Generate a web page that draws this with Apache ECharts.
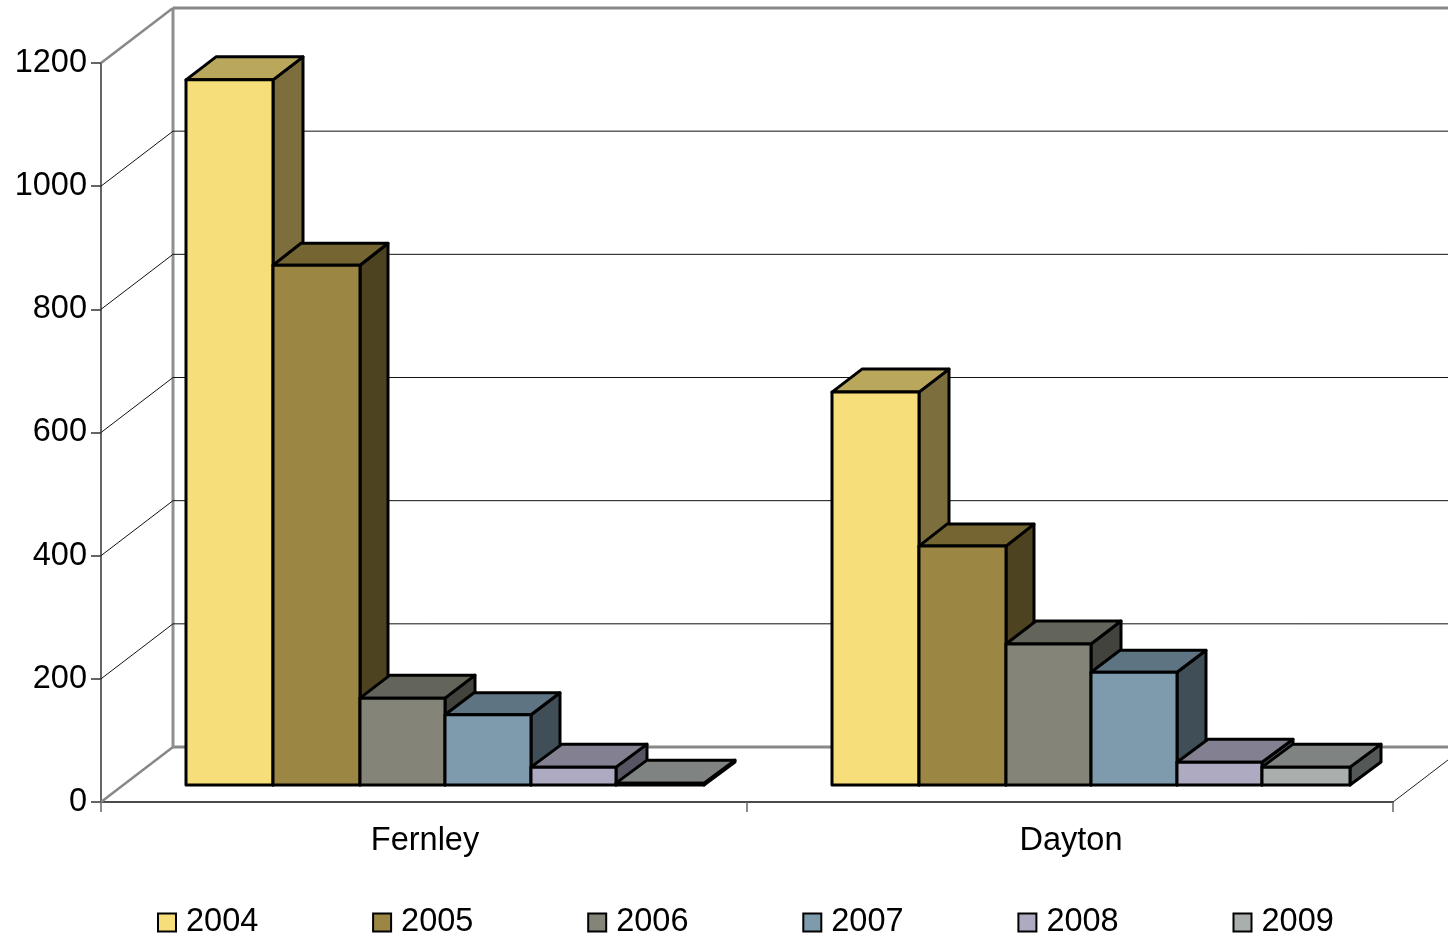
<!DOCTYPE html>
<html>
<head>
<meta charset="utf-8">
<style>html,body{margin:0;padding:0;background:#fff}#chart{width:1448px;height:936px}</style>
<script src="https://cdn.jsdelivr.net/npm/echarts@6/dist/echarts.min.js"></script>
</head>
<body>
<div id="chart"></div>
<script>
// Values per town, one list per year
const towns = ['Fernley', 'Dayton'];
const years = ['2004', '2005', '2006', '2007', '2008', '2009'];
const values2004 = [1145, 638];
const values2005 = [844, 388];
const values2006 = [141, 229];
const values2007 = [114, 183];
const values2008 = [29, 37];
const values2009 = [3, 29];
const yearValues = [values2004, values2005, values2006, values2007, values2008, values2009];
const valueTicks = [0, 200, 400, 600, 800, 1000, 1200];

// Front, top and side face colours for each year
const faceColors = [
  ['#F6DF7A', '#B9A75C', '#7D6F3D'],
  ['#9B8743', '#746533', '#4D4320'],
  ['#848578', '#63645A', '#42433C'],
  ['#7D9BAD', '#5E7482', '#3F4E57'],
  ['#AEAAC2', '#838092', '#575561'],
  ['#A9AFAC', '#7F8381', '#545856']
];

// Pseudo-3D projection, in pixels
const wallDepth = [72, -55];
const barDepths = [[30, -23], [28, -22], [30, -23], [29, -22], [31, -23], [31, -23]];
const barLift = 17;
const barEdges = [85, 172, 259, 344, 430, 515, 603];

function poly(points, fill, stroke, width) {
  return {
    type: 'polygon',
    shape: { points },
    style: { fill, stroke, lineWidth: width, lineJoin: 'round' }
  };
}

function line(x1, y1, x2, y2, stroke, width) {
  return {
    type: 'line',
    shape: { x1, y1, x2, y2 },
    style: { stroke, lineWidth: width, fill: null }
  };
}

// Walls and floor: slanted rule from the axis, then a horizontal rule on the back wall
function renderWall(params, api) {
  const value = api.value(1);
  const p = api.coord([0, value]);
  const band = api.size([1, 0])[0];
  const left = p[0] - band / 2;
  const right = left + band * towns.length;
  const y = p[1];
  const [dx, dy] = wallDepth;
  const edge = value === valueTicks[0] || value === valueTicks[valueTicks.length - 1];
  const stroke = edge ? '#888888' : '#111111';
  const width = edge ? 3 : 1;
  const children = [
    line(left, y, left + dx, y + dy, stroke, edge ? 2.5 : 1),
    line(left + dx, y + dy, right + dx, y + dy, stroke, width)
  ];
  if (value === valueTicks[0]) {
    children.push(line(right, y, right + dx, y + dy, '#222222', 1));
    const top = api.coord([0, valueTicks[valueTicks.length - 1]])[1];
    children.push(line(left + dx, y + dy, left + dx, top + dy, '#909090', 3));
  }
  return { type: 'group', children };
}

function renderBar(seriesIndex) {
  return function (params, api) {
    const top = api.coord([api.value(0), api.value(1)]);
    const base = api.coord([api.value(0), 0]);
    const band = api.size([1, 0])[0];
    const start = top[0] - band / 2;
    const x0 = start + barEdges[seriesIndex];
    const x1 = start + barEdges[seriesIndex + 1];
    const yt = top[1] - barLift;
    const yb = base[1] - barLift;
    const [dx, dy] = barDepths[seriesIndex];
    const c = faceColors[seriesIndex];
    return {
      type: 'group',
      children: [
        poly([[x1, yt], [x1 + dx, yt + dy], [x1 + dx, yb + dy], [x1, yb]], c[2], '#000', 3),
        poly([[x0, yt], [x0 + dx, yt + dy], [x1 + dx, yt + dy], [x1, yt]], c[1], '#000', 3),
        poly([[x0, yt], [x1, yt], [x1, yb], [x0, yb]], c[0], '#000', 3)
      ]
    };
  };
}

const textFont = { fontFamily: 'Liberation Sans', fontSize: 32.5, color: '#000' };

const option = {
  animation: false,
  backgroundColor: '#fff',
  grid: { left: 101, right: 55, top: 63, bottom: 134, containLabel: false },
  legend: {
    data: years,
    left: 152,
    top: 901,
    icon: 'rect',
    itemWidth: 18,
    itemHeight: 18,
    itemGap: 113.8,
    itemStyle: { borderColor: '#000', borderWidth: 2 },
    textStyle: Object.assign({ padding: [0, 0, 4, 5] }, textFont),
    selectedMode: false
  },
  xAxis: {
    type: 'category',
    data: towns,
    axisLine: { lineStyle: { color: '#111', width: 1.5 } },
    axisTick: { show: true, length: 10, lineStyle: { color: '#666', width: 1.5 } },
    axisLabel: Object.assign({ margin: 23, padding: [0, 0, 0, 2] }, textFont)
  },
  yAxis: {
    type: 'value',
    min: 0,
    max: 1200,
    interval: 200,
    axisLine: { show: true, lineStyle: { color: '#333', width: 1.5 } },
    axisTick: { show: true, length: 10, lineStyle: { color: '#333', width: 1.5 } },
    axisLabel: Object.assign({ margin: 14, padding: [4, 0, 0, 0], formatter: v => String(v) }, textFont),
    splitLine: { show: false }
  },
  series: [
    {
      type: 'custom',
      name: 'walls',
      renderItem: renderWall,
      encode: { x: 0, y: 1 },
      data: valueTicks.map(v => [0, v]),
      silent: true,
      z: 1
    }
  ].concat(years.map((year, i) => ({
    type: 'custom',
    name: year,
    renderItem: renderBar(i),
    encode: { x: 0, y: 1 },
    itemStyle: { color: faceColors[i][0] },
    data: yearValues[i].map((v, t) => [t, v]),
    z: 3
  })))
};

const chart = echarts.init(document.getElementById('chart'), null, { renderer: 'canvas' });
chart.setOption(option);
</script>
</body>
</html>
